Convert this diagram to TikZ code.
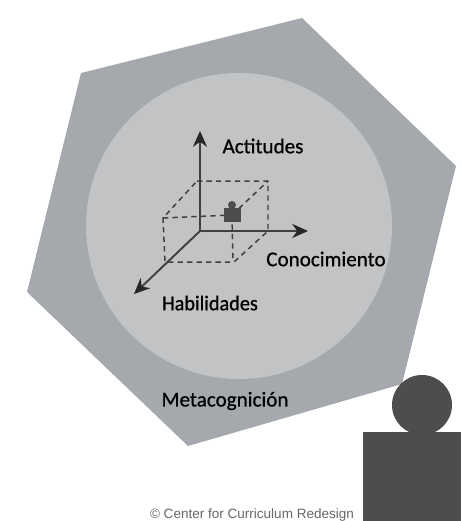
\documentclass[tikz,border=0pt]{standalone}
\usepackage{fontspec}
\setmainfont{Carlito}
\newfontfamily\labelfont[FakeBold=0.8]{Carlito}
\newfontfamily\creditfont{Liberation Sans}
\usetikzlibrary{calc, positioning, arrows.meta}
\definecolor{hexgray}{RGB}{165,168,172}
\definecolor{discgray}{RGB}{193,195,197}
\definecolor{persongray}{RGB}{77,77,80}
\tikzset{
    axisline/.style={draw=black!75, line width=1.1pt, -{Stealth[length=9pt,width=8pt,black!85]}},
    boxline/.style={draw=black!75, line width=.85pt, dash pattern=on 3pt off 2.4pt},
    axislabel/.style={font=\labelfont\fontsize{12}{14}\selectfont, text=black}
}

\begin{document}
\begin{tikzpicture}[x=0.02cm,y=-0.02cm]
\useasboundingbox (0,0) rectangle (461,521);

\fill[hexgray] (302,18) -- (456,166) -- (402,384) -- (188,446) -- (27,292) -- (81,73) -- cycle;
\fill[discgray] (239,226) circle (153);

\coordinate (origin) at (200,231);
\coordinate (top) at (200,131);
\coordinate (right) at (308,231);
\coordinate (front) at (134,294);
\coordinate (p) at (232,215);

% box around the figure
\draw[boxline] (197,181) -- (268,181) -- (268,231) -- (234,262) -- (165,262) -- (163,218) -- cycle;
\draw[boxline] (163,218) -- (p);
\draw[boxline] (p) -- (268,181);
\draw[boxline] (p) -- (233,262);

\draw[axisline] (origin) -- (top);
\draw[axisline] (origin) -- (right);
\draw[axisline] (origin) -- (front);

\fill[persongray] (224,208) rectangle (241,222);
\fill[persongray] (232,205) circle (4);

\node[axislabel] (actitudes) at (263,146) {Actitudes};
\node[axislabel] (conocimiento) at (326,259) {Conocimiento};
\node[axislabel, xscale=.96] (habilidades) at (210,303) {Habilidades};
\node[axislabel] (metacognicion) at (225,401) {Metacognición};

\fill[persongray] (363,432) rectangle (461,521);
\fill[persongray] (422,405) circle (30);

\node[font=\creditfont\fontsize{7.7}{9}\selectfont, text=black!60] (credit) at (252,515) {© Center for Curriculum Redesign};
\end{tikzpicture}
\end{document}
